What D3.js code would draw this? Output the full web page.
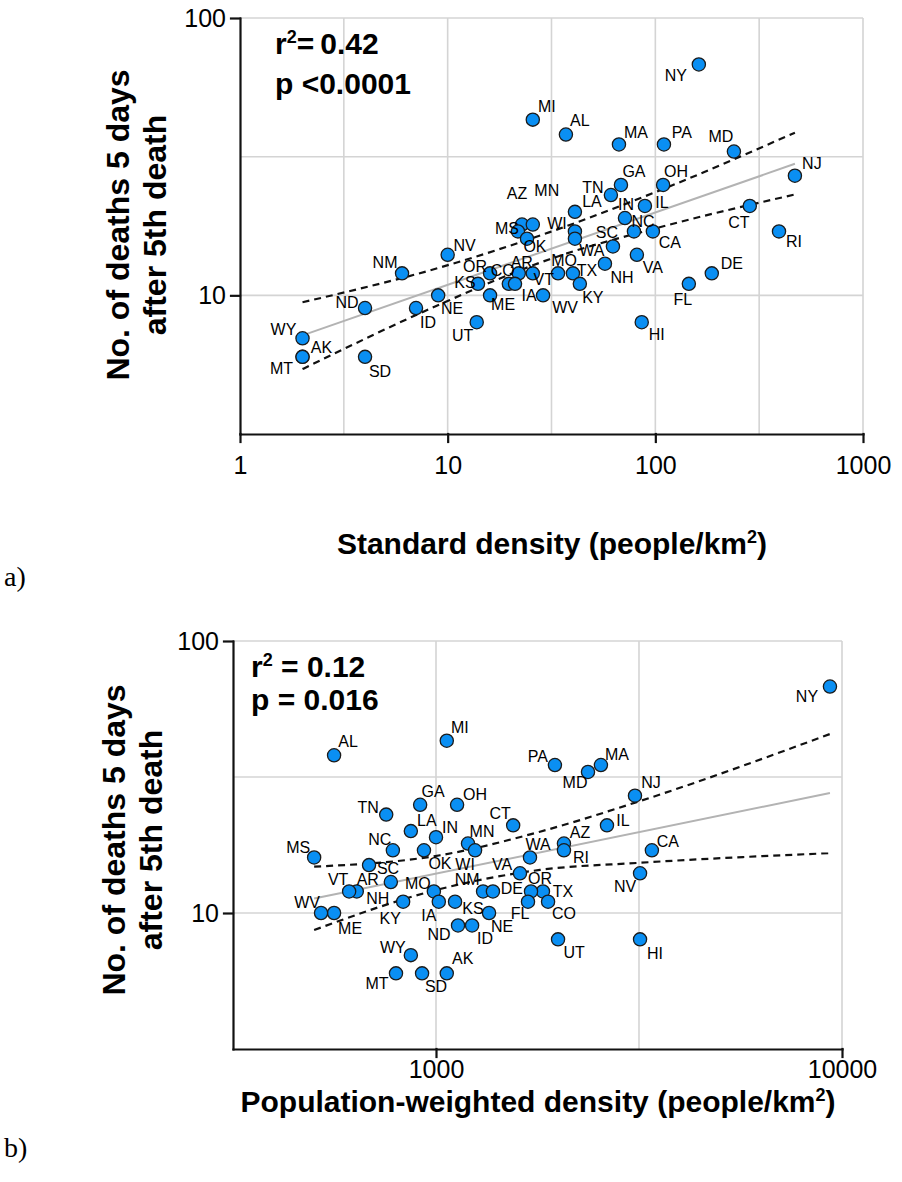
<!DOCTYPE html>
<html>
<head>
<meta charset="utf-8">
<script src="https://cdn.jsdelivr.net/npm/d3@7"></script>
<style>
  body { margin: 0; background: #fff; }
  svg text { font-family: "Liberation Sans", Arial, sans-serif; }
</style>
</head>
<body>
<svg id="chart" width="902" height="1182"></svg>
<script>
// ---- data ----
const states = ['NY', 'MI', 'AL', 'MA', 'PA', 'MD', 'NJ', 'GA', 'OH', 'TN',
    'IL', 'CT', 'LA', 'IN', 'AZ', 'MN', 'WI', 'NC', 'CA', 'RI',
    'OK', 'MS', 'WA', 'SC', 'VA', 'NV', 'NH', 'AR', 'MO', 'TX',
    'NM', 'DE', 'OR', 'VT', 'KS', 'KY', 'CO', 'IA', 'FL', 'ME',
    'NE', 'WV', 'ND', 'ID', 'HI', 'UT', 'WY', 'MT', 'SD', 'AK'];

// deaths 5 days after the 5th death
const deaths = [68, 43, 38, 35, 35, 33, 27, 25, 25, 23,
    21, 21, 20, 19, 18, 18, 17, 17, 17, 17,
    17, 16, 16, 15, 14, 14, 13, 12, 12, 12,
    12, 12, 12, 12, 11, 11, 11, 11, 11, 10,
    10, 10, 9, 9, 8, 8, 7, 6, 6, 6];

// standard density (people/km2)
const densityStd = [162, 25.7, 37.1, 66.8, 110, 239, 470, 68.3, 109, 61.1,
    89.1, 285, 41.0, 71.4, 22.8, 25.7, 41.0, 78.9, 97.3, 394,
    21.8, 24.1, 41.0, 62.5, 81.5, 10.0, 57.2, 22.0, 34.0, 40.1,
    6.03, 187, 16.0, 25.7, 14.0, 43.3, 19.7, 21.1, 145, 16.0,
    9.0, 28.8, 4.0, 7.04, 86, 13.8, 2.0, 2.0, 4.0, 2.0];

// population-weighted density (people/km2)
const densityPw = [9340, 1063, 561, 2548, 1963, 2368, 3091, 914, 1127, 754,
    2637, 1549, 867, 1000, 2066, 1199, 1248, 783, 3402, 2066,
    934, 501, 1704, 684, 1610, 3181, 774, 638, 988, 1834,
    1306, 1381, 1714, 611, 1114, 830, 1888, 1016, 1685, 561,
    1351, 521, 1133, 1227, 3181, 1998, 867, 797, 924, 1063];

// regression line and 95% band
const fitStdX = [2, 470];
const fitStdY = [7.17, 29.8];
const bandStdX = [2, 9.18, 31, 105, 470];
const bandStdUp = [9.44, 12.6, 16.9, 23.9, 38.6];
const bandStdLo = [5.42, 9.28, 13.5, 17.6, 23.1];

const fitPwX = [501, 9340];
const fitPwY = [11.3, 27.6];
const bandPwX = [501, 1023, 1803, 3181, 9340];
const bandPwUp = [14.8, 16.3, 19.9, 25.8, 45.5];
const bandPwLo = [8.66, 12.25, 14.4, 15.3, 16.6];

// ticks / grid
const yTicks = [10, 100];
const yGrid = [10, 31.62, 100];
const xTicksStd = [1, 10, 100, 1000];
const xGridStd = [3.162, 10, 31.62, 100, 316.2, 1000];
const xTicksPw = [1000, 10000];
const xGridPw = [1000, 3162, 10000];

// label placement (px offsets from the marker)
const labelPosStd = {
    NY: [-23, 11], MI: [14, -13], AL: [14, -14], MA: [17, -12], PA: [18, -12], MD: [-13, -15],
    NJ: [17, -12], GA: [13, -13], OH: [13, -13], TN: [-18, -8], IL: [17, -3], CT: [-11, 17],
    LA: [17, -10], IN: [1, -14], AZ: [-5, -31], MN: [14, -34], WI: [-18, -8], NC: [9, -10],
    CA: [17, 11], RI: [15, 10], OK: [17, 15], MS: [-20, -10], WA: [17, 12], SC: [-6, -14],
    VA: [16, 13], NV: [17, -9], NH: [17, 14], AR: [3, -11], MO: [6, -13], TX: [14, -3],
    NM: [-17, -11], DE: [20, -10], OR: [-15, -7], VT: [11, 6], KS: [-13, -1], KY: [13, 14],
    CO: [-6, -13], IA: [14, 12], FL: [-6, 16], ME: [13, 9], NE: [14, 13], WV: [22, 12],
    ND: [-18, -6], ID: [12, 14], HI: [15, 12], UT: [-14, 13], WY: [-19, -9], MT: [-21, 12],
    SD: [15, 15], AK: [19, -9]
};
const labelPosPw = {
    NY: [-23, 10], MI: [13, -13], AL: [14, -14], MA: [16, -11], PA: [-17, -9], MD: [-13, 11],
    NJ: [16, -13], GA: [13, -13], OH: [18, -10], TN: [-18, -7], IL: [16, -5], CT: [-13, -12],
    LA: [16, -11], IN: [14, -10], AZ: [16, -11], MN: [14, -12], WI: [-10, 14], NC: [-13, -11],
    CA: [16, -9], RI: [17, 7], OK: [16, 13], MS: [-16, -10], WA: [8, -13], SC: [19, 3],
    VA: [-18, -9], NV: [-15, 13], NH: [-13, 16], AR: [11, -12], MO: [-16, -8], TX: [20, 0],
    NM: [-16, -12], DE: [19, -3], OR: [9, -13], VT: [-11, -12], KS: [18, 7], KY: [-13, 17],
    CO: [16, 12], IA: [-10, 14], FL: [-8, 12], ME: [16, 15], NE: [13, 13], WV: [-14, -11],
    ND: [-19, 9], ID: [13, 13], HI: [15, 14], UT: [16, 13], WY: [-18, -8], MT: [-19, 10],
    SD: [14, 13], AK: [16, -15]
};

const svg = d3.select('#chart');

function drawPanel(o) {
    const g = svg.append('g');

    const x = d3.scaleLog().domain(o.xDomain).range([o.left, o.right]);
    const y = d3.scaleLog().domain([Math.sqrt(10), 100]).range([o.bottom, o.top]);

    // grid
    g.append('g').selectAll('line').data(o.xGrid).join('line')
        .attr('x1', d => x(d)).attr('x2', d => x(d))
        .attr('y1', o.top).attr('y2', o.bottom)
        .attr('stroke', '#d4d4d4').attr('stroke-width', 1.6);
    g.append('g').selectAll('line').data(yGrid).join('line')
        .attr('x1', o.left).attr('x2', o.right)
        .attr('y1', d => y(d)).attr('y2', d => y(d))
        .attr('stroke', '#d4d4d4').attr('stroke-width', 1.6);

    // regression + confidence band
    const line = d3.line()
        .x(d => x(d[0]))
        .y(d => y(d[1]))
        .curve(d3.curveMonotoneX);

    g.append('path')
        .datum(d3.zip(o.fitX, o.fitY))
        .attr('fill', 'none')
        .attr('stroke', '#b3b3b3')
        .attr('stroke-width', 2)
        .attr('d', line);

    [o.bandUp, o.bandLo].forEach(band => {
        g.append('path')
            .datum(d3.zip(o.bandX, band))
            .attr('fill', 'none')
            .attr('stroke', '#111')
            .attr('stroke-width', 2.2)
            .attr('stroke-dasharray', '7,5')
            .attr('d', line);
    });

    // axes
    const yAxis = g.append('g')
        .attr('transform', `translate(${o.left},0)`)
        .call(d3.axisLeft(y).tickValues(yTicks).tickFormat(d3.format('d'))
            .tickSize(9).tickSizeOuter(0).tickPadding(5));
    const xAxis = g.append('g')
        .attr('transform', `translate(0,${o.bottom})`)
        .call(d3.axisBottom(x).tickValues(o.xTicks).tickFormat(d3.format('d'))
            .tickSize(8).tickSizeOuter(0).tickPadding(o.xTickPad));

    [yAxis, xAxis].forEach(ax => {
        ax.selectAll('path, line')
            .attr('stroke', '#111')
            .attr('stroke-width', 2.2)
            .attr('stroke-linecap', 'square');
        ax.selectAll('text')
            .attr('fill', '#000')
            .attr('font-size', 25)
            .attr('font-family', '"Liberation Sans", Arial, sans-serif');
    });

    // points
    g.append('g').selectAll('circle')
        .data(states.map((s, i) => ({ s, x: o.density[i], y: deaths[i] })))
        .join('circle')
        .attr('cx', d => x(d.x))
        .attr('cy', d => y(d.y))
        .attr('r', 6.6)
        .attr('fill', '#0a8ff3')
        .attr('stroke', '#1b1b1b')
        .attr('stroke-width', 1.3);

    // state labels
    g.append('g').selectAll('text')
        .data(states.map((s, i) => ({ s, x: o.density[i], y: deaths[i] })))
        .join('text')
        .attr('x', d => x(d.x) + o.labelPos[d.s][0])
        .attr('y', d => y(d.y) + o.labelPos[d.s][1])
        .attr('text-anchor', 'middle')
        .attr('dominant-baseline', 'central')
        .attr('font-size', 16)
        .attr('fill', '#000')
        .text(d => d.s);

    // r2 / p
    const r2 = g.append('text')
        .attr('x', o.statX).attr('y', o.statY)
        .attr('font-size', 30).attr('font-weight', 'bold');
    r2.append('tspan').text('r');
    r2.append('tspan').attr('font-size', 18).attr('dy', -11).text('2');
    r2.append('tspan').attr('dy', 11).text(o.rText);

    g.append('text')
        .attr('x', o.statX).attr('y', o.statY + o.statGap)
        .attr('font-size', 30).attr('font-weight', 'bold')
        .text(o.pText);

    // x title
    const xt = g.append('text')
        .attr('x', o.xTitleX).attr('y', o.xTitleY)
        .attr('text-anchor', 'middle')
        .attr('font-size', 30).attr('font-weight', 'bold');
    xt.append('tspan').text(o.xTitle);
    xt.append('tspan').attr('font-size', 18).attr('dy', -11).text('2');
    xt.append('tspan').attr('dy', 11).text(')');

    // y title, two lines
    const yt = g.append('g')
        .attr('transform', `translate(${o.yTitleX},${o.yTitleY}) rotate(-90)`);
    yt.append('text')
        .attr('text-anchor', 'middle')
        .attr('font-size', 32).attr('font-weight', 'bold')
        .text('No. of deaths 5 days');
    yt.append('text')
        .attr('y', 37)
        .attr('text-anchor', 'middle')
        .attr('font-size', 32).attr('font-weight', 'bold')
        .text('after 5th death');

    // panel letter
    svg.append('text')
        .attr('x', 4).attr('y', o.letterY)
        .attr('font-size', 28)
        .style('font-family', '"Liberation Serif", "DejaVu Serif", serif')
        .text(o.letter);
}

drawPanel({
    xDomain: [1, 1000], left: 240, right: 863, top: 18, bottom: 434,
    density: densityStd, xTicks: xTicksStd, xGrid: xGridStd, xTickPad: 14,
    fitX: fitStdX, fitY: fitStdY,
    bandX: bandStdX, bandUp: bandStdUp, bandLo: bandStdLo,
    labelPos: labelPosStd,
    statX: 275, statY: 54, statGap: 40, rText: '=\u20090.42', pText: 'p <0.0001',
    xTitle: 'Standard density (people/km', xTitleX: 552, xTitleY: 554,
    yTitleX: 129, yTitleY: 225,
    letter: 'a)', letterY: 586
});

drawPanel({
    xDomain: [Math.pow(10, 2.5), 10000], left: 233, right: 842, top: 641, bottom: 1049,
    density: densityPw, xTicks: xTicksPw, xGrid: xGridPw, xTickPad: 3,
    fitX: fitPwX, fitY: fitPwY,
    bandX: bandPwX, bandUp: bandPwUp, bandLo: bandPwLo,
    labelPos: labelPosPw,
    statX: 251, statY: 677, statGap: 33, rText: ' = 0.12', pText: 'p = 0.016',
    xTitle: 'Population-weighted density (people/km', xTitleX: 538, xTitleY: 1112,
    yTitleX: 125, yTitleY: 840,
    letter: 'b)', letterY: 1157
});
</script>
</body>
</html>
